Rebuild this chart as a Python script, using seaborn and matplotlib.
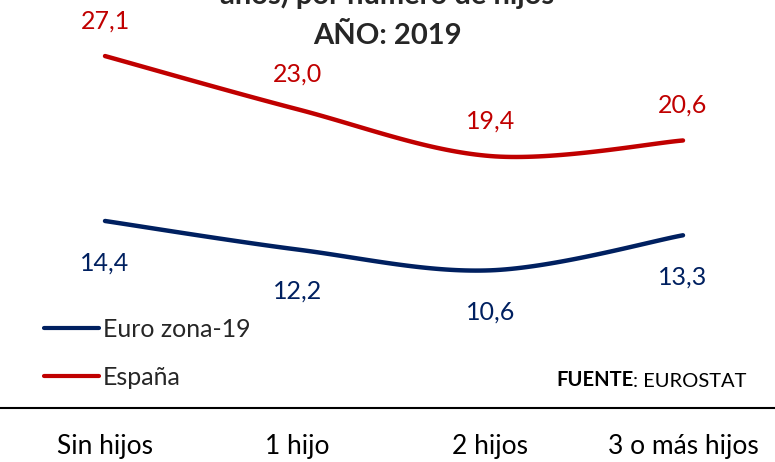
import numpy as np
import pandas as pd
import matplotlib
matplotlib.use("Agg")
import matplotlib.pyplot as plt
import seaborn as sns
from matplotlib.lines import Line2D

categories = ["Sin hijos", "1 hijo", "2 hijos", "3 o más hijos"]
espana = [27.1, 23.0, 19.4, 20.6]
euro = [14.4, 12.2, 10.6, 13.3]
series_names = ["Euro zona-19", "España"]
colors = {"Euro zona-19": "#002060", "España": "#C00000"}
title_lines = ["años) por número de hijos", "AÑO: 2019"]

sns.set_theme(style="white")
plt.rcParams["font.family"] = ["Lato", "DejaVu Sans"]

W, H = 775, 462
fig = plt.figure(figsize=(W / 100, H / 100), dpi=100)
ax = fig.add_axes([0, (H - 408) / H, 1, 408 / H])


def smooth(y, n=40):
    # Excel-like smoothed line (Catmull-Rom Bezier) between the given points
    y = np.asarray(y, float)
    x = np.arange(len(y), dtype=float)
    xs, ys = [], []
    for i in range(len(y) - 1):
        p0 = np.array([x[max(i - 1, 0)], y[max(i - 1, 0)]])
        p1 = np.array([x[i], y[i]])
        p2 = np.array([x[i + 1], y[i + 1]])
        p3 = np.array([x[min(i + 2, len(y) - 1)], y[min(i + 2, len(y) - 1)]])
        c1 = p1 + (p2 - p0) / 6
        c2 = p2 - (p3 - p1) / 6
        t = np.linspace(0, 1, n)[:, None]
        pts = (1 - t) ** 3 * p1 + 3 * (1 - t) ** 2 * t * c1 + 3 * (1 - t) * t ** 2 * c2 + t ** 3 * p2
        xs.extend(pts[:, 0]); ys.extend(pts[:, 1])
    return np.array(xs), np.array(ys)


frames = []
for name, vals in zip(series_names, [euro, espana]):
    sx, sy = smooth(vals)
    frames.append(pd.DataFrame({"x": sx, "y": sy, "serie": name}))
df = pd.concat(frames, ignore_index=True)

sns.lineplot(data=df, x="x", y="y", hue="serie", palette=colors, sort=False,
             linewidth=3.2, ax=ax, legend=False)

px_per_unit_x = (683 - 105) / 3
ax.set_xlim(-105 / px_per_unit_x, (W - 105) / px_per_unit_x)
px_per_unit_y = (157 - 57) / (27.1 - 19.4)
ax.set_ylim(0, 408 / px_per_unit_y)

for i, v in enumerate(espana):
    ax.annotate(f"{v:.1f}".replace(".", ","), (i, v), xytext=(0, 35), textcoords="offset pixels",
                ha="center", va="center", color=colors["España"], fontsize=18)
for i, v in enumerate(euro):
    ax.annotate(f"{v:.1f}".replace(".", ","), (i, v), xytext=(0, -42), textcoords="offset pixels",
                ha="center", va="center", color=colors["Euro zona-19"], fontsize=18)

ax.set_xticks(range(len(categories)))
ax.set_xticklabels(categories, fontsize=19)
ax.set_yticks([])
ax.tick_params(axis="x", length=0, pad=19, colors="black")
ax.set_xlabel(""); ax.set_ylabel("")
for s in ["top", "left", "right"]:
    ax.spines[s].set_visible(False)
ax.spines["bottom"].set_color("black")
ax.spines["bottom"].set_linewidth(1.5)

handles = [Line2D([], [], color=colors[n], linewidth=3) for n in series_names]
ax.legend(handles, series_names, loc="upper left", bbox_to_anchor=(44 / W, 1 - 318 / 408),
          frameon=False, fontsize=18, handlelength=2.2, handletextpad=0.15,
          labelspacing=1.0, borderaxespad=0, borderpad=0)

t1 = fig.text(556 / W, 1 - 386 / H, "FUENTE", fontsize=14.5, fontweight="bold",
              ha="left", va="baseline", color="black")
ax.annotate(": EUROSTAT", xy=(1, 0), xycoords=t1, va="bottom", ha="left",
            fontsize=14.5, color="black")

fig.text(0.5, 1 - 4 / H, title_lines[0], fontsize=21, fontweight="bold", ha="center", va="baseline")
fig.text(0.5, 1 - 44 / H, title_lines[1], fontsize=21, fontweight="bold", ha="center", va="baseline")

fig.savefig("out.png", dpi=100)
